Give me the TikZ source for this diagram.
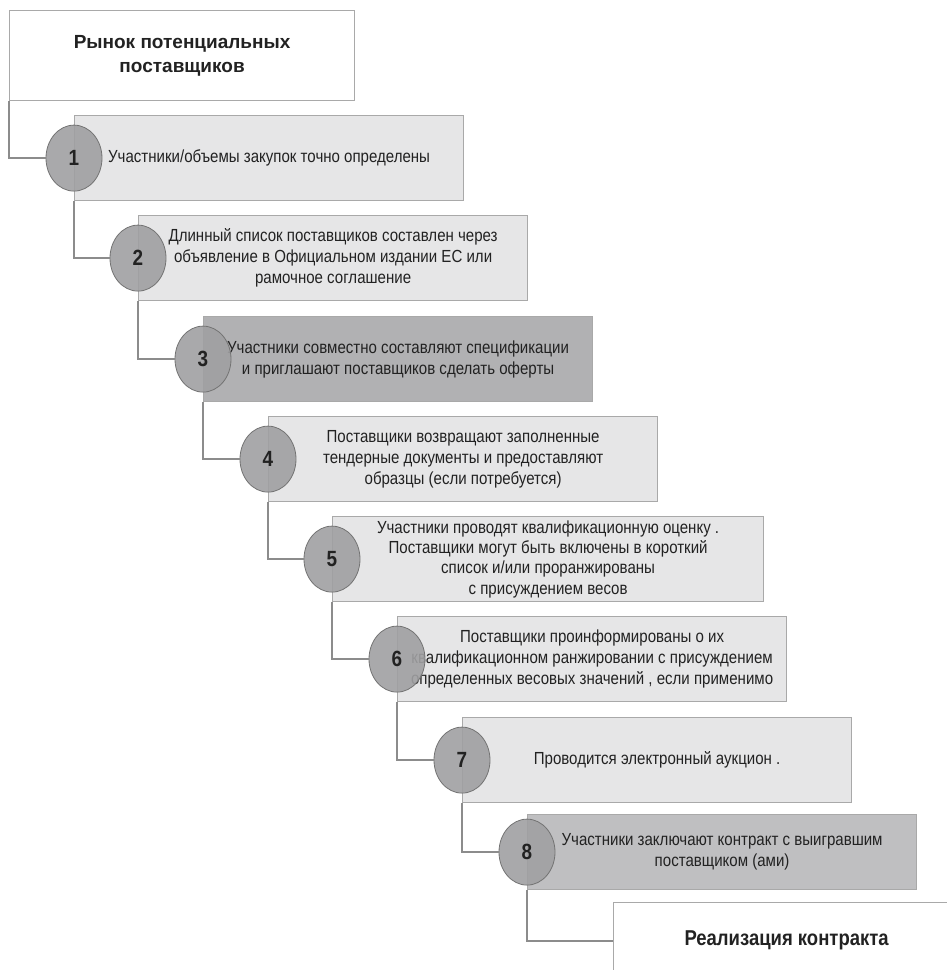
\documentclass[tikz,border=0pt]{standalone}
\usepackage{fontspec}
\setmainfont{Liberation Sans}
\newfontfamily\narrowfont[FakeStretch=0.86]{Liberation Sans}
\usetikzlibrary{shapes.geometric}

\definecolor{boxline}{HTML}{A9A9A9}
\definecolor{lightbox}{HTML}{E6E6E7}
\definecolor{darkbox}{HTML}{B1B1B3}
\definecolor{midbox}{HTML}{BFBFC1}
\definecolor{dotfill}{HTML}{A0A0A2}
\definecolor{dotline}{HTML}{737373}
\definecolor{wire}{HTML}{8C8C8C}
\definecolor{ink}{HTML}{222222}

\begin{document}
\begin{tikzpicture}[x=1pt,y=-1pt,
  stepbox/.style={draw=boxline, line width=1.2pt, fill=lightbox, anchor=north west,
    minimum width=389pt, minimum height=85pt, inner sep=0pt, align=center, text=ink,
    font=\narrowfont\fontsize{17.5}{21}\selectfont},
  endbox/.style={draw=boxline, line width=1.2pt, fill=white, anchor=north west,
    inner sep=0pt, align=center, text=ink, font=\bfseries\fontsize{19}{24}\selectfont},
  dot/.style={ellipse, draw=dotline, line width=0.8pt, fill=dotfill, fill opacity=0.9,
    text opacity=1, minimum width=56pt, minimum height=66pt, inner sep=0pt, text=ink,
    font=\narrowfont\bfseries\fontsize{22}{22}\selectfont},
  wire/.style={draw=wire, line width=2pt}]
\useasboundingbox (0,0) rectangle (947,970);
\clip (0,0) rectangle (947,970);

\node[endbox, minimum width=345pt, minimum height=90pt] (market) at (9,10) {Рынок потенциальных\\поставщиков};

\node[stepbox] (box1) at (74,115) {Участники/объемы закупок точно определены};
\node[stepbox] (box2) at (138,215) {Длинный список поставщиков составлен через\\объявление в Официальном издании ЕС или\\рамочное соглашение};
\node[stepbox, fill=darkbox] (box3) at (203,316) {Участники совместно составляют спецификации\\и приглашают поставщиков сделать оферты};
\node[stepbox] (box4) at (268,416) {Поставщики возвращают заполненные\\тендерные документы и предоставляют\\образцы (если потребуется)};
\node[stepbox, minimum width=431pt, font=\narrowfont\fontsize{17.5}{20.3}\selectfont] (box5) at (332,516) {Участники проводят квалификационную оценку .\\Поставщики могут быть включены в короткий\\список и/или проранжированы\\с присуждением весов};
\node[stepbox] (box6) at (397,616) {Поставщики проинформированы о их\\квалификационном ранжировании с присуждением\\определенных весовых значений , если применимо};
\node[stepbox] (box7) at (462,717) {Проводится электронный аукцион .};
\node[stepbox, fill=midbox, minimum height=75pt] (box8) at (527,814) {Участники заключают контракт с выигравшим\\поставщиком (ами)};

\node[endbox, font=\narrowfont\bfseries\fontsize{21.5}{24}\selectfont, minimum width=346pt, minimum height=76pt] (contract) at (613,902) {Реализация контракта};

\node[dot] (n1) at (box1.west) {1};
\node[dot] (n2) at (box2.west) {2};
\node[dot] (n3) at (box3.west) {3};
\node[dot] (n4) at (box4.west) {4};
\node[dot] (n5) at (box5.west) {5};
\node[dot] (n6) at (box6.west) {6};
\node[dot] (n7) at (box7.west) {7};
\node[dot] (n8) at (box8.west) {8};

\draw[wire] (market.south west) |- (n1.west);
\draw[wire] (box1.south west) |- (n2.west);
\draw[wire] (box2.south west) |- (n3.west);
\draw[wire] (box3.south west) |- (n4.west);
\draw[wire] (box4.south west) |- (n5.west);
\draw[wire] (box5.south west) |- (n6.west);
\draw[wire] (box6.south west) |- (n7.west);
\draw[wire] (box7.south west) |- (n8.west);
\draw[wire] (box8.south west) |- (contract.west);
\end{tikzpicture}
\end{document}
